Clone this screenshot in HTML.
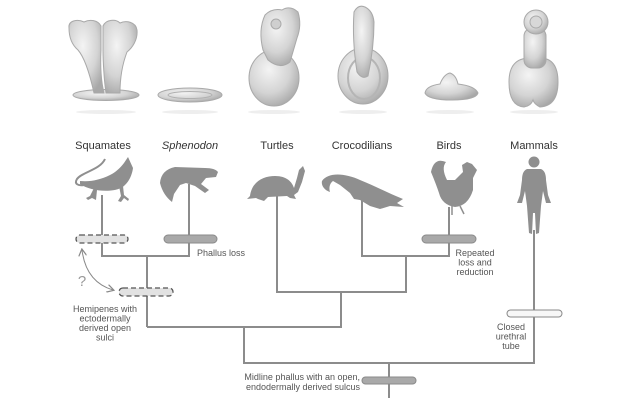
<!DOCTYPE html>
<html><head><meta charset="utf-8"><style>
html,body{margin:0;padding:0;background:#fff;}
svg{display:block;}
text{font-family:"Liberation Sans",sans-serif;}
.lab{font-size:11px;fill:#333;text-anchor:middle;}
.sm{font-size:9px;fill:#555;}
.ln{stroke:#8c8c8c;stroke-width:2;fill:none;}
.sil{fill:#8f8f8f;}
.mdl{fill:url(#g);stroke:#a9a9a9;stroke-width:1;}
</style></head><body>
<svg width="620" height="420" viewBox="0 0 620 420" xmlns="http://www.w3.org/2000/svg">
<defs>
<radialGradient id="g" cx="40%" cy="35%" r="70%">
<stop offset="0" stop-color="#f4f4f4"/><stop offset="0.6" stop-color="#d4d4d4"/><stop offset="1" stop-color="#a8a8a8"/>
</radialGradient>
<marker id="ah" markerWidth="8" markerHeight="8" refX="6" refY="4" orient="auto-start-reverse" markerUnits="userSpaceOnUse">
<path d="M0,0 L7,4 L0,8" fill="none" stroke="#888" stroke-width="1.2"/>
</marker>
</defs>

<!-- shadows -->
<g fill="#eeeeee">
<ellipse cx="106" cy="112" rx="30" ry="2"/>
<ellipse cx="190" cy="112" rx="28" ry="2"/>
<ellipse cx="274" cy="112" rx="26" ry="2"/>
<ellipse cx="363" cy="112" rx="24" ry="2"/>
<ellipse cx="450" cy="112" rx="24" ry="2"/>
<ellipse cx="534" cy="112" rx="24" ry="2"/>
</g>

<!-- top models -->
<ellipse class="mdl" cx="106" cy="95" rx="33" ry="5.5"/>
<path class="mdl" d="M69,28 C68,20 78,19 84,22 C90,19 98,20 101,26 L101,50 C100,70 102,85 104,93 L94,93 C90,75 85,58 78,50 C71,44 69,36 69,28 Z"/>
<path class="mdl" d="M103,26 C106,19 116,19 120,23 C126,20 136,22 137,30 C138,40 132,48 127,52 C122,65 120,80 120,93 L106,93 C104,80 103,60 103,50 Z"/>
<ellipse class="mdl" cx="190" cy="95" rx="32" ry="7"/>
<ellipse cx="190" cy="95" rx="22" ry="3.5" fill="none" stroke="#b0b0b0"/>
<ellipse class="mdl" cx="274" cy="78" rx="25" ry="28"/>
<path class="mdl" d="M263,50 Q258,30 265,15 Q272,8 282,10 Q290,5 298,12 Q302,25 297,38 L290,62 Q280,70 268,60 Z"/>
<circle cx="276" cy="24" r="5" fill="#cfcfcf" stroke="#aaa"/>
<ellipse class="mdl" cx="363" cy="76" rx="25" ry="28"/>
<ellipse cx="364" cy="78" rx="16" ry="21" fill="none" stroke="#b5b5b5" stroke-width="2"/>
<path class="mdl" d="M357,72 Q352,40 354,12 Q358,4 365,7 Q373,11 374,22 Q374,48 368,76 Q362,80 357,72 Z"/>
<path class="mdl" d="M425,93 Q426,86 440,84 Q444,74 450,73 Q456,75 458,84 Q475,86 478,93 Q476,100 452,100 Q428,100 425,93 Z"/>
<path class="mdl" d="M509,82 Q509,58 530,58 L540,58 Q558,58 558,82 Q558,106 540,107 Q534,104 533,100 Q531,106 524,107 Q509,106 509,82 Z"/>
<rect class="mdl" x="524" y="28" width="22" height="40" rx="8"/>
<circle class="mdl" cx="536" cy="22" r="12"/>
<circle cx="536" cy="22" r="6" fill="#d8d8d8" stroke="#aaa"/>

<!-- labels -->
<text class="lab" x="103" y="149">Squamates</text>
<text class="lab" x="190" y="149" font-style="italic">Sphenodon</text>
<text class="lab" x="277" y="149">Turtles</text>
<text class="lab" x="362" y="149">Crocodilians</text>
<text class="lab" x="449" y="149">Birds</text>
<text class="lab" x="534" y="149">Mammals</text>

<!-- tree lines -->
<path class="ln" d="M102,195 V256 H189 V184"/>
<path class="ln" d="M147,256 V327"/>
<path class="ln" d="M277,192 V292 H406 V256"/>
<path class="ln" d="M362,195 V256 H449 V207"/>
<path class="ln" d="M341,292 V327 H147"/>
<path class="ln" d="M244,327 V363 H534 V230"/>
<path class="ln" d="M389,363 V398"/>

<!-- silhouettes -->
<g class="sil">
<path d="M80,184 C90,191 110,193 121,188 C128,184 132,176 133,168 L128,157 L124,163 C120,168 116,172 110,175 C100,180 90,182 80,181 Z"/>
<path d="M94,188 L90,196 L86,198 L88,200 L92,198 L96,200 L97,190 Z"/>
<path d="M119,186 L121,196 L118,201 L121,202 L124,198 L128,201 L129,199 L124,195 L123,186 Z"/>
<path d="M160,183 Q161,170 175,167 L205,168 Q215,168 218,172 L216,177 L206,178 L201,184 L209,190 L205,193 L195,186 L186,183 L180,185 L174,194 L172,202 Q163,195 160,183 Z"/>
<path d="M250,196 C252,181 264,176 275,176 C287,176 292,182 294,188 L297,178 L299,170 L303,166 L305,171 L302,182 L298,192 L294,195 L296,199 L290,198 L287,196 L268,197 L264,201 L258,199 L256,198 L247,199 Z"/>
<path d="M322,181 C328,172 345,173 360,180 C375,186 388,193 403,199 L397,203 L404,207 L390,206 L380,209 L370,206 L360,200 L354,199 L350,193 L340,185 L333,181 C329,184 329,189 330,192 C324,190 321,185 322,181 Z"/>
<path d="M431,172 Q434,157 446,162 Q441,168 447,180 L455,180 L463,172 L462,165 L467,162 L472,164 L477,170 L473,178 L473,190 Q468,206 455,207 Q442,205 439,193 Q436,184 431,172 Z"/>
<circle cx="534" cy="162" r="5.5"/>
<path d="M527,169 L541,169 Q546,171 546,180 L548,195 L551,203 L546,203 L543,191 L541,206 L539,233 L536,234 L535,213 L533,213 L532,234 L529,233 L527,206 L525,191 L522,203 L517,203 L520,195 L522,180 Q522,171 527,169 Z"/>
</g>
<path d="M105,159 C100,170 82,172 77,179 C74,184 78,186 84,185" stroke="#8f8f8f" stroke-width="2" fill="none"/>
<path d="M452,206 V215 M460,206 L464,214" stroke="#8f8f8f" stroke-width="1.5" fill="none"/>

<!-- bars -->
<rect x="76" y="235" width="52" height="8" rx="4" fill="#e2e2e2" stroke="#555" stroke-width="1.3" stroke-dasharray="5,3"/>
<rect x="119" y="288" width="54" height="8" rx="4" fill="#e2e2e2" stroke="#555" stroke-width="1.3" stroke-dasharray="5,3"/>
<rect x="164" y="235" width="53" height="8" rx="4" fill="#a9a9a9" stroke="#8a8a8a" stroke-width="1"/>
<rect x="422" y="235" width="54" height="8" rx="4" fill="#a9a9a9" stroke="#8a8a8a" stroke-width="1"/>
<rect x="507" y="310" width="55" height="7" rx="3.5" fill="#f7f7f7" stroke="#8a8a8a" stroke-width="1"/>
<rect x="362" y="377" width="54" height="7" rx="3.5" fill="#a9a9a9" stroke="#8a8a8a" stroke-width="1"/>

<!-- arrow -->
<path d="M82,250 Q86,282 113,290" fill="none" stroke="#888" stroke-width="1" marker-start="url(#ah)" marker-end="url(#ah)"/>
<text x="82" y="286" font-size="15" fill="#999" text-anchor="middle">?</text>

<!-- annotations -->
<text class="sm" x="197" y="256">Phallus loss</text>
<text class="sm" text-anchor="middle"><tspan x="475" y="256">Repeated</tspan><tspan x="475" y="265.5">loss and</tspan><tspan x="475" y="275">reduction</tspan></text>
<text class="sm" text-anchor="middle"><tspan x="105" y="312">Hemipenes with</tspan><tspan x="105" y="321.5">ectodermally</tspan><tspan x="105" y="331">derived open</tspan><tspan x="105" y="340.5">sulci</tspan></text>
<text class="sm" text-anchor="middle"><tspan x="511" y="330">Closed</tspan><tspan x="511" y="339.5">urethral</tspan><tspan x="511" y="349">tube</tspan></text>
<text class="sm" text-anchor="end"><tspan x="360" y="380">Midline phallus with an open,</tspan><tspan x="360" y="390">endodermally derived sulcus</tspan></text>
</svg>
</body></html>
